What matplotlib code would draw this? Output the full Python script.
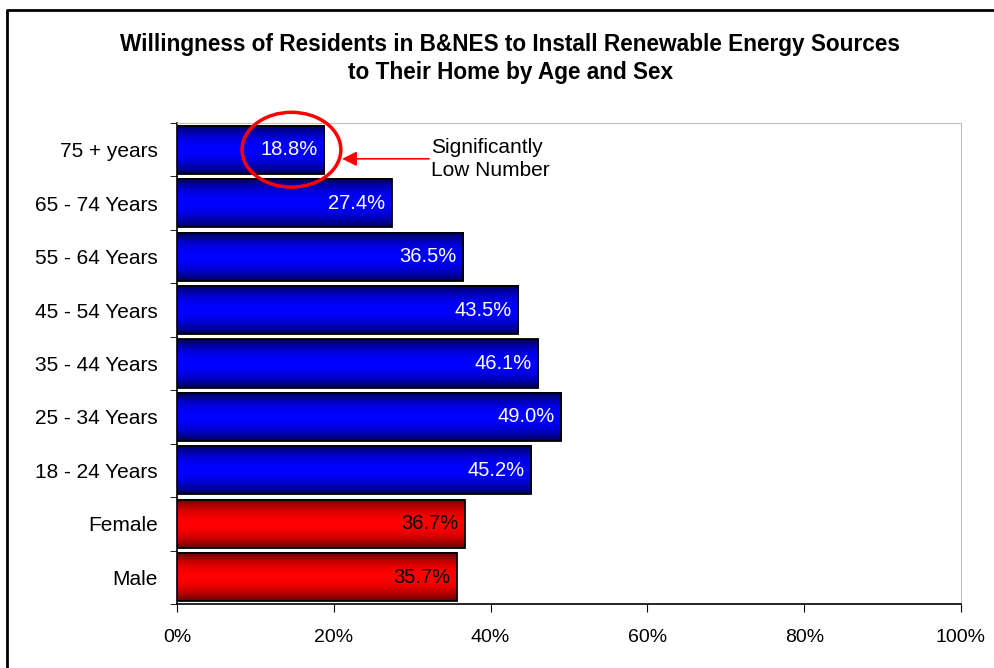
import numpy as np
import matplotlib.pyplot as plt
from matplotlib.colors import LinearSegmentedColormap
from matplotlib.patches import Rectangle, Ellipse
from matplotlib.lines import Line2D

plt.rcParams['font.family'] = ['Liberation Sans', 'DejaVu Sans']

# categories listed top to bottom
groups = ['75 + years', '65 - 74 Years', '55 - 64 Years', '45 - 54 Years',
          '35 - 44 Years', '25 - 34 Years', '18 - 24 Years', 'Female', 'Male']
pct = [18.8, 27.4, 36.5, 43.5, 46.1, 49.0, 45.2, 36.7, 35.7]
is_sex = [False] * 7 + [True, True]
xticks = [0, 20, 40, 60, 80, 100]

blue_map = LinearSegmentedColormap.from_list('b', ['#00005a', '#0000ff'])
red_map = LinearSegmentedColormap.from_list('r', ['#680000', '#ff0000'])
shade = np.abs(np.linspace(-1, 1, 64) ** 2 - 1).reshape(-1, 1)

fig = plt.figure(figsize=(9.95, 6.68), dpi=100)
ax = fig.add_axes([177/995, 1 - 604/668, 784/995, 481/668])

n = len(groups)
ypos = np.arange(n)[::-1]
h = 0.9
for y, v, sex in zip(ypos, pct, is_sex):
    cm = red_map if sex else blue_map
    ax.imshow(shade, cmap=cm, aspect='auto', extent=[0, v, y - h/2, y + h/2],
              interpolation='bilinear', zorder=2, vmin=0, vmax=1)
    ax.add_patch(Rectangle((0, y - h/2), v, h, fill=False, ec='black',
                           lw=1.3, zorder=3))
    ax.text(v - 0.8, y, f'{v:.1f}%', ha='right', va='center', fontsize=14.5,
            color='black' if sex else 'white', zorder=4)

ax.set_xlim(0, 100)
ax.set_ylim(-0.5, n - 0.5)
ax.set_xticks(xticks)
ax.set_xticklabels([f'{t}%' for t in xticks], fontsize=14)
ax.set_yticks(ypos)
ax.set_yticklabels(groups, fontsize=15)
ax.tick_params(axis='y', length=0, pad=14)
ax.set_yticks(np.arange(n + 1) - 0.5, minor=True)
ax.tick_params(axis='y', which='minor', length=5, direction='out')
ax.tick_params(axis='x', length=6, direction='out', pad=12)

for s in ['top', 'right']:
    ax.spines[s].set_color('#c0c0c0')
for s in ['left', 'bottom']:
    ax.spines[s].set_color('black')
    ax.spines[s].set_linewidth(1.2)

# highlight the oldest group
top = ypos[0]
ax.add_patch(Ellipse((14.6, top), 12.6, 1.4, fill=False, ec='#ff0000', lw=2.5,
                     zorder=5, clip_on=False))
ax.annotate('', xy=(20.7, top - 0.17), xytext=(32.5, top - 0.17),
            arrowprops=dict(arrowstyle='-|>', color='#ff0000', lw=1.2,
                            mutation_scale=22), zorder=5)
ax.text(32.4, top - 0.17, 'Significantly\nLow Number', fontsize=15,
        ha='left', va='center', linespacing=1.3)

fig.text(0.513, 0.912, 'Willingness of Residents in B&NES to Install Renewable Energy Sources\n'
         'to Their Home by Age and Sex', ha='center', va='center',
         fontsize=16.3, fontweight='bold', linespacing=1.3)

# outer frame: left and top edges
fig.add_artist(Line2D([7.5/995, 7.5/995, 1.0], [0, 1 - 10/668, 1 - 10/668],
                      color='black', lw=2, transform=fig.transFigure))

fig.savefig('out.png', dpi=100)
